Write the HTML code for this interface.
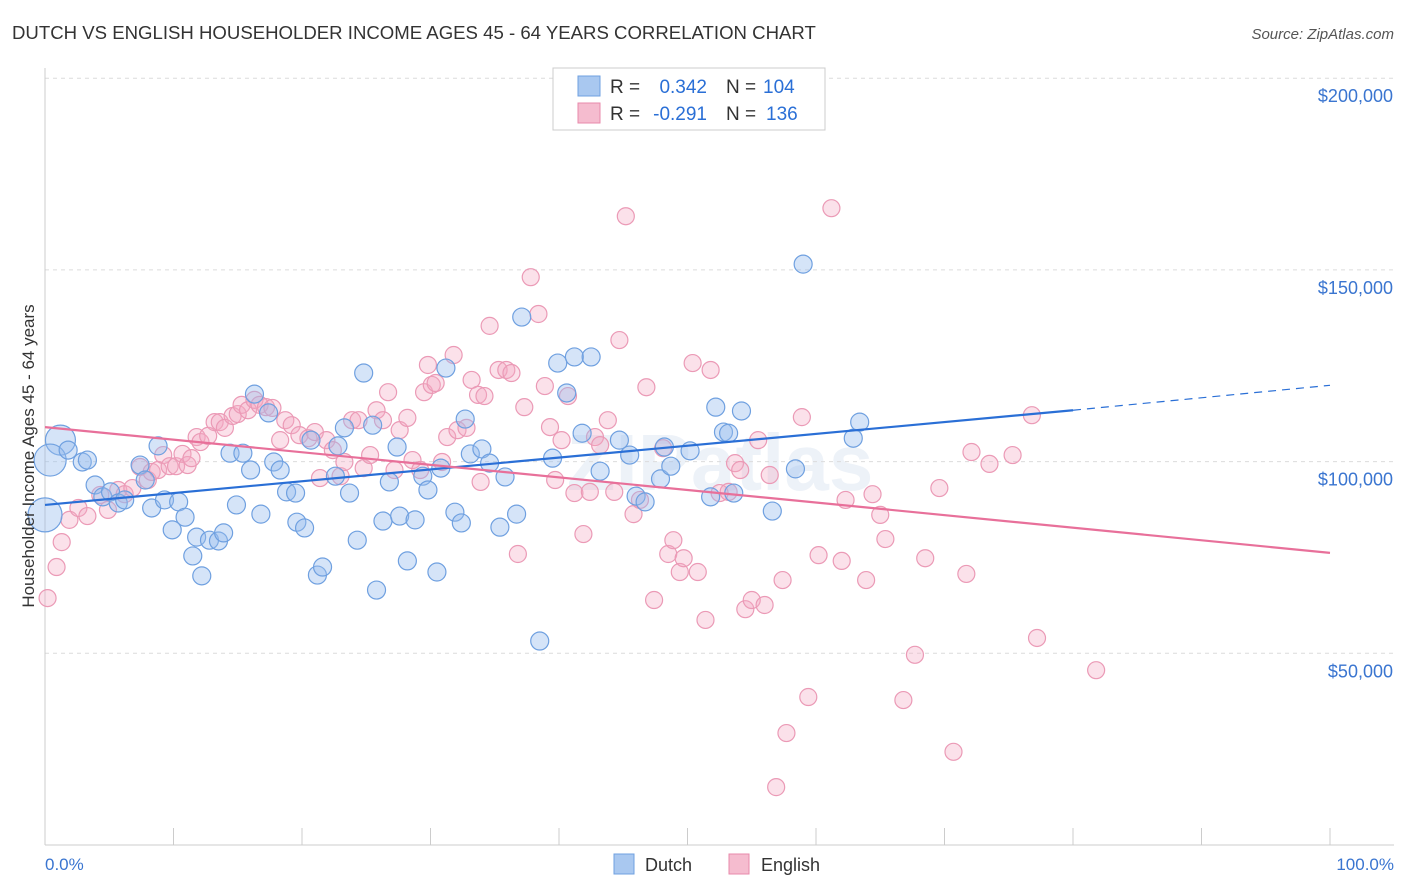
<!DOCTYPE html>
<html><head><meta charset="utf-8">
<style>
body{margin:0;background:#fff;font-family:"Liberation Sans",sans-serif;}
svg{display:block}
</style></head>
<body>
<svg width="1406" height="892" viewBox="0 0 1406 892" xmlns="http://www.w3.org/2000/svg" id="chart">
<text x="12" y="39" font-size="18.6" fill="#333">DUTCH VS ENGLISH HOUSEHOLDER INCOME AGES 45 - 64 YEARS CORRELATION CHART</text>
<text x="1394" y="39" font-size="15" fill="#555" font-style="italic" text-anchor="end">Source: ZipAtlas.com</text>
<text x="720" y="490" font-size="80" fill="#dde6f2" text-anchor="middle" font-weight="bold" opacity="0.5">ZIPatlas</text>
<g id="grid"></g>
<g id="axes"></g>
<g id="pts"></g>
<g id="trends"></g>
<text transform="translate(34,456) rotate(-90)" font-size="17" fill="#333" text-anchor="middle">Householder Income Ages 45 - 64 years</text>
<text x="45" y="870" font-size="17" fill="#3a75d0">0.0%</text>
<text x="1394" y="870" font-size="17" fill="#3a75d0" text-anchor="end">100.0%</text>
<g>
<rect x="553" y="68" width="272" height="62" fill="#fff" stroke="#ccc"/>
<rect x="578" y="76" width="22" height="20" fill="#a9c8f0" stroke="#6fa0e0"/>
<rect x="578" y="103" width="22" height="20" fill="#f5bccf" stroke="#e88aab"/>
<text x="610" y="93" font-size="19" fill="#333">R =</text>
<text x="707" y="93" font-size="19" fill="#2a6fd6" text-anchor="end">0.342</text>
<text x="726" y="93" font-size="19" fill="#333">N =</text>
<text x="763" y="93" font-size="19" fill="#2a6fd6">104</text>
<text x="610" y="120" font-size="19" fill="#333">R =</text>
<text x="707" y="120" font-size="19" fill="#2a6fd6" text-anchor="end">-0.291</text>
<text x="726" y="120" font-size="19" fill="#333">N =</text>
<text x="766" y="120" font-size="19" fill="#2a6fd6">136</text>
</g>
<g>
<rect x="614" y="854" width="20" height="20" fill="#a9c8f0" stroke="#6fa0e0"/>
<text x="645" y="871" font-size="18" fill="#333">Dutch</text>
<rect x="729" y="854" width="20" height="20" fill="#f5bccf" stroke="#e88aab"/>
<text x="761" y="871" font-size="18" fill="#333">English</text>
</g>
</svg>
<script>
const yTicks=[50000,100000,150000,200000];
const yTickLabels=["$50,000","$100,000","$150,000","$200,000"];
const dutchX=[0,1.2,0.4,1.8,2.9,3.3,3.9,4.5,5.1,5.7,6.2,7.4,7.8,8.3,8.8,9.3,9.9,10.4,10.9,11.5,11.8,12.2,12.8,13.5,13.9,14.4,14.9,15.4,16.0,16.3,16.8,17.4,17.8,18.3,18.8,19.5,19.6,20.2,20.7,21.2,21.6,22.6,22.8,23.3,23.7,24.3,24.8,25.5,25.8,26.3,26.8,27.4,27.6,28.2,28.8,29.4,29.8,30.5,30.8,31.2,31.9,32.4,32.7,33.1,34.0,34.6,35.4,35.8,36.7,37.1,38.5,39.5,39.9,40.6,41.2,41.8,42.5,43.2,44.7,45.5,46.0,46.7,47.9,48.2,48.7,50.2,51.8,52.2,52.8,53.2,53.6,54.2,56.6,58.4,59.0,62.9,63.4];
const dutchY=[86.1,105.6,100.4,103.0,99.9,100.4,93.9,90.8,92.1,89.2,90.0,99.1,95.2,87.9,104.1,90.0,82.2,89.5,85.5,75.4,80.3,70.2,79.5,79.3,81.4,102.2,88.7,102.2,97.8,117.6,86.3,112.7,99.9,97.8,92.1,91.8,84.2,82.7,105.6,70.4,72.5,96.2,104.1,108.8,91.8,79.5,123.1,109.5,66.5,84.5,94.7,103.8,85.8,74.1,84.8,96.2,92.6,71.2,98.3,124.4,86.8,84.0,111.1,102.0,103.3,99.6,82.9,96.0,86.3,137.7,53.2,100.9,125.7,117.9,127.3,107.4,127.3,97.5,105.6,101.7,91.0,89.5,95.5,103.8,98.8,102.8,90.8,114.2,107.7,107.4,91.8,113.2,87.1,98.1,151.5,106.1,110.3];
const dutchR=[17,15,16,9,9,9,9,9,9,9,9,9,9,9,9,9,9,9,9,9,9,9,9,9,9,9,9,9,9,9,9,9,9,9,9,9,9,9,9,9,9,9,9,9,9,9,9,9,9,9,9,9,9,9,9,9,9,9,9,9,9,9,9,9,9,9,9,9,9,9,9,9,9,9,9,9,9,9,9,9,9,9,9,9,9,9,9,9,9,9,9,9,9,9,9,9,9];
const engX=[0.2,0.9,1.3,1.9,2.6,3.3,4.3,4.9,5.7,6.2,6.8,7.4,8.0,8.3,8.8,9.2,9.7,10.2,10.7,11.1,11.4,11.8,12.1,12.7,13.2,13.6,14.0,14.6,15.0,15.3,15.8,16.3,16.7,17.2,17.7,18.3,18.7,19.2,19.8,20.5,21.0,21.4,21.9,22.4,23.0,23.3,23.9,24.4,24.8,25.3,25.8,26.3,26.7,27.2,27.6,28.2,28.6,29.2,29.5,29.8,30.1,30.4,30.9,31.3,31.8,32.1,32.8,33.2,33.7,33.9,34.2,34.6,35.3,35.9,36.3,36.8,37.3,37.8,38.4,38.9,39.3,39.7,40.2,40.7,41.2,41.9,42.4,42.8,43.2,43.8,44.3,44.7,45.2,45.8,46.3,46.8,47.4,48.1,48.5,48.9,49.4,49.7,50.4,50.8,51.4,51.8,52.5,53.2,53.7,54.1,54.5,55.0,55.5,56.0,56.4,56.9,57.4,57.7,58.9,59.4,60.2,61.2,62.0,62.3,63.9,64.4,65.0,65.4,66.8,67.7,68.5,69.6,70.7,71.7,72.1,73.5,75.3,76.8,77.2,81.8];
const engY=[64.4,72.5,79.0,84.8,87.9,85.8,91.3,87.4,92.6,91.5,93.1,98.6,95.2,97.3,97.8,101.7,98.8,98.8,102.0,99.1,100.9,106.4,105.1,106.7,110.3,110.3,108.8,111.9,112.4,114.8,113.4,116.1,114.8,114.2,114.0,105.6,110.8,109.5,106.9,106.1,107.7,95.7,105.6,103.0,96.2,99.9,110.8,110.8,98.3,101.7,113.4,110.8,118.1,97.8,108.2,111.4,100.4,97.8,118.1,125.2,120.0,120.5,99.9,106.4,127.8,108.2,108.8,121.3,117.4,94.7,117.1,135.4,123.9,123.9,123.1,75.9,114.2,148.1,138.5,119.7,109.0,95.2,105.6,117.1,91.8,81.1,92.1,106.4,104.3,110.8,92.1,131.7,164.0,86.3,90.0,119.4,63.9,103.5,75.9,79.5,71.2,74.8,125.7,71.2,58.7,123.9,91.8,92.1,99.6,97.8,61.5,63.9,105.6,62.6,96.5,15.1,69.1,29.2,111.6,38.6,75.6,166.1,74.1,90.0,69.1,91.5,86.1,79.8,37.8,49.6,74.8,93.1,24.3,70.7,102.5,99.4,101.7,112.1,54.0,45.6];
const dutchTrendX=[0,80,100];
const dutchTrendY=[88.7,113.4,119.9];
const engTrendX=[0,100];
const engTrendY=[109.0,76.2];

const NS="http://www.w3.org/2000/svg";
const X0=45,X1=1330,YB=845,PXPER50K=191.7;
const sx=v=>X0+(X1-X0)*v/100;
const sy=v=>YB-v/50000*PXPER50K;
const syk=v=>sy(v*1000);
function mk(tag,attrs,parent){const e=document.createElementNS(NS,tag);for(const k in attrs)e.setAttribute(k,attrs[k]);parent.appendChild(e);return e;}
const grid=document.getElementById('grid'),axes=document.getElementById('axes'),pts=document.getElementById('pts'),tr=document.getElementById('trends');
yTicks.forEach((t,i)=>{
  const l=mk('line',{x1:X0,x2:1394,y1:sy(t),y2:sy(t),stroke:'#dcdcdc','stroke-dasharray':'4,4'},grid);
  
  
  const tx=mk('text',{x:1393,y:sy(t)+24,'font-size':18,fill:'#3a75d0','text-anchor':'end'},grid);
  
  
  tx.textContent=yTickLabels[i];
});
const al=mk('line',{x1:X0,x2:X0,y1:68,y2:YB,stroke:'#ccc'},axes);


const bl=mk('line',{x1:X0,x2:1394,y1:YB,y2:YB,stroke:'#ccc'},axes);


for(let p=10;p<=100;p+=10){
  const tk=mk('line',{x1:sx(p),x2:sx(p),y1:828,y2:YB,stroke:'#ccc'},axes);
  
  
}
engX.forEach((x,i)=>{
  const c=mk('circle',{cx:sx(x),cy:syk(engY[i]),r:8.5,fill:'rgba(243,170,196,0.35)',stroke:'#eb9ab6','stroke-width':1.2},pts);
  
  
});
dutchX.forEach((x,i)=>{
  const c=mk('circle',{cx:sx(x),cy:syk(dutchY[i]),r:dutchR[i],fill:'rgba(150,188,238,0.4)',stroke:'#6fa0e0','stroke-width':1.2},pts);
  
  
});
const d1=mk('line',{x1:sx(dutchTrendX[0]),y1:syk(dutchTrendY[0]),x2:sx(dutchTrendX[1]),y2:syk(dutchTrendY[1]),stroke:'#2a6fd6','stroke-width':2.2},tr);


const d2=mk('line',{x1:sx(dutchTrendX[1]),y1:syk(dutchTrendY[1]),x2:sx(dutchTrendX[2]),y2:syk(dutchTrendY[2]),stroke:'#2a6fd6','stroke-width':1.2,'stroke-dasharray':'8,6'},tr);


const e1=mk('line',{x1:sx(engTrendX[0]),y1:syk(engTrendY[0]),x2:sx(engTrendX[1]),y2:syk(engTrendY[1]),stroke:'#e8709a','stroke-width':2.2},tr);


</script>
</body></html>
